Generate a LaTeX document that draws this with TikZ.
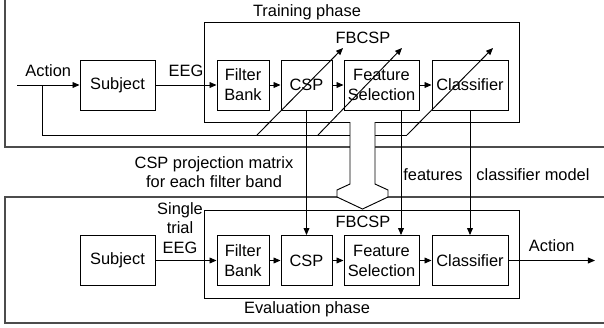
\documentclass[tikz,border=0pt]{standalone}
\usepackage{fontspec}
\setmainfont{Liberation Sans}
\usetikzlibrary{arrows.meta,positioning}
\tikzset{
    blockbox/.style={
        draw=black,
        fill=white,
        line width=0.8pt,
        minimum height=1.5cm,
        inner sep=1pt,
        align=center,
        font=\fontsize{14}{17}\selectfont
    },
    fbcspframe/.style={
        draw=black,
        line width=0.8pt,
        inner sep=0pt
    },
    phaseframe/.style={
        draw=black!70,
        line width=1.4pt
    },
    labeltext/.style={
        align=center,
        inner sep=0pt,
        font=\fontsize{14}{16.5}\selectfont
    },
    flowarrow/.style={
        -{Triangle[length=6pt,width=5pt]},
        draw=black,
        line width=0.8pt
    },
    flowline/.style={
        draw=black,
        line width=0.8pt
    },
    hollowarrow/.style={
        draw=black,
        fill=white,
        line width=0.8pt
    }
}

\begin{document}
\begin{tikzpicture}[x=0.03cm,y=-0.03cm]
    \useasboundingbox (0,0) rectangle (604,327);
    \clip (0,0) rectangle (604,327);

    % phase frames
    \draw[phaseframe] (5,-10) -- (5,147) -- (615,147);
    \draw[phaseframe] (615,197) -- (5,197) -- (5,323) -- (615,323);
    \node[labeltext] (trainlabel) at (307,12) {Training phase};
    \node[labeltext] (evallabel) at (307,309) {Evaluation phase};

    % training phase
    \node[fbcspframe,minimum width=9.45cm,minimum height=3cm] (tfbcsp) at (361.5,72) {};
    \node[labeltext] (tfbcsplabel) at (363,38) {FBCSP};
    \node[blockbox,minimum width=2.25cm] (tsubj) at (117.5,85) {Subject};
    \node[blockbox,minimum width=1.56cm] (tfb) at (243,85) {Filter\\Bank};
    \node[blockbox,minimum width=1.53cm] (tcsp) at (306.5,85) {CSP};
    \node[blockbox,minimum width=2.25cm] (tfs) at (381.5,85) {Feature\\Selection};
    \node[blockbox,minimum width=2.28cm] (tcls) at (470,85) {Classifier};

    \coordinate (actin) at (17,85);
    \coordinate (fbk) at (42,85);
    \coordinate (fbkend) at (407,135);
    \coordinate (cspfrom) at (257,135);
    \coordinate (cspto) at (343,48);
    \coordinate (fsfrom) at (318,135);
    \coordinate (fsto) at (402,48);
    \coordinate (clsto) at (493,48);

    \draw[flowarrow] (actin) --
        node[labeltext,above=7pt] {Action} (tsubj);
    \draw[flowarrow] (tsubj) --
        node[labeltext,above=7pt] {EEG} (tfb);
    \draw[flowarrow] (tfb) -- (tcsp);
    \draw[flowarrow] (tcsp) -- (tfs);
    \draw[flowarrow] (tfs) -- (tcls);

    % feedback of the labels
    \draw[flowline] (fbk) |- (fbkend);
    \draw[flowarrow] (cspfrom) -- (cspto);
    \draw[flowarrow] (fsfrom) -- (fsto);
    \draw[flowarrow] (fbkend) -- (clsto);

    % evaluation phase
    \node[fbcspframe,minimum width=9.45cm,minimum height=2.64cm] (efbcsp) at (361.5,254) {};
    \node[labeltext] (efbcsplabel) at (363,222) {FBCSP};
    \node[blockbox,minimum width=2.25cm] (esubj) at (117.5,260.5) {Subject};
    \node[blockbox,minimum width=1.56cm] (efb) at (243,260.5) {Filter\\Bank};
    \node[blockbox,minimum width=1.53cm] (ecsp) at (306.5,260.5) {CSP};
    \node[blockbox,minimum width=2.25cm] (efs) at (381.5,260.5) {Feature\\Selection};
    \node[blockbox,minimum width=2.28cm] (ecls) at (470,260.5) {Classifier};
    \coordinate (actout) at (595,260.5);

    \draw[flowarrow] (esubj) -- (efb);
    \node[labeltext] (steeg) at (180,228) {Single\\trial\\EEG};
    \draw[flowarrow] (efb) -- (ecsp);
    \draw[flowarrow] (ecsp) -- (efs);
    \draw[flowarrow] (efs) -- (ecls);
    \draw[flowarrow] (ecls) --
        node[labeltext,above=7pt] {Action} (actout);

    % trained parameters
    \draw[flowarrow] (tcsp.south) -- (ecsp.north);
    \draw[flowarrow] ([xshift=0.585cm]tfs.south) -- ([xshift=0.585cm]efs.north);
    \draw[flowarrow] (tcls.south) -- (ecls.north);
    \node[labeltext] (csplabel) at (214,172) {CSP projection matrix\\for each filter band};
    \node[labeltext] (fslabel) at (433,175) {features};
    \node[labeltext] (clslabel) at (533,175) {classifier model};

    \draw[hollowarrow] (350,122) -- (350,184) -- (337,190) -- (337,197)
        -- (362.5,209) -- (388,197) -- (388,190) -- (375,184) -- (375,122);
\end{tikzpicture}
\end{document}
